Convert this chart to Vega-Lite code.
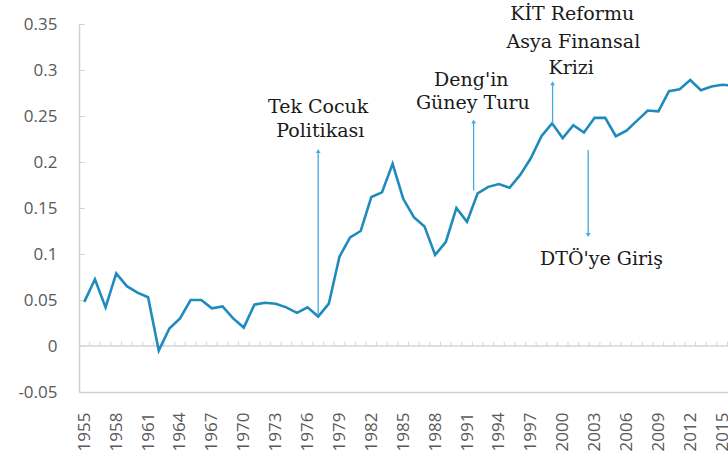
{
  "$schema": "https://vega.github.io/schema/vega-lite/v6.json",
  "width": 649,
  "height": 368,
  "autosize": {"type": "none"},
  "padding": {"left": 79, "top": 24, "right": 0, "bottom": 64},
  "background": "white",
  "config": {"view": {"stroke": null}},
  "datasets": {
    "series": [
      {"year": 1955, "value": 0.048}, {"year": 1956, "value": 0.0725}, {"year": 1957, "value": 0.042},
      {"year": 1958, "value": 0.079}, {"year": 1959, "value": 0.065}, {"year": 1960, "value": 0.058},
      {"year": 1961, "value": 0.053}, {"year": 1962, "value": -0.005}, {"year": 1963, "value": 0.019},
      {"year": 1964, "value": 0.03}, {"year": 1965, "value": 0.05}, {"year": 1966, "value": 0.05},
      {"year": 1967, "value": 0.041}, {"year": 1968, "value": 0.043}, {"year": 1969, "value": 0.03},
      {"year": 1970, "value": 0.02}, {"year": 1971, "value": 0.045}, {"year": 1972, "value": 0.047},
      {"year": 1973, "value": 0.046}, {"year": 1974, "value": 0.042}, {"year": 1975, "value": 0.036},
      {"year": 1976, "value": 0.042}, {"year": 1977, "value": 0.032}, {"year": 1978, "value": 0.046},
      {"year": 1979, "value": 0.097}, {"year": 1980, "value": 0.118}, {"year": 1981, "value": 0.125},
      {"year": 1982, "value": 0.162}, {"year": 1983, "value": 0.167}, {"year": 1984, "value": 0.198},
      {"year": 1985, "value": 0.16}, {"year": 1986, "value": 0.14}, {"year": 1987, "value": 0.13},
      {"year": 1988, "value": 0.099}, {"year": 1989, "value": 0.113}, {"year": 1990, "value": 0.15},
      {"year": 1991, "value": 0.135}, {"year": 1992, "value": 0.166}, {"year": 1993, "value": 0.173},
      {"year": 1994, "value": 0.176}, {"year": 1995, "value": 0.172}, {"year": 1996, "value": 0.186},
      {"year": 1997, "value": 0.204}, {"year": 1998, "value": 0.228}, {"year": 1999, "value": 0.242},
      {"year": 2000, "value": 0.226}, {"year": 2001, "value": 0.24}, {"year": 2002, "value": 0.232},
      {"year": 2003, "value": 0.248}, {"year": 2004, "value": 0.248}, {"year": 2005, "value": 0.228},
      {"year": 2006, "value": 0.234}, {"year": 2007, "value": 0.245}, {"year": 2008, "value": 0.256},
      {"year": 2009, "value": 0.255}, {"year": 2010, "value": 0.277}, {"year": 2011, "value": 0.279},
      {"year": 2012, "value": 0.289}, {"year": 2013, "value": 0.278}, {"year": 2014, "value": 0.282},
      {"year": 2015, "value": 0.284}, {"year": 2016, "value": 0.283}
    ],
    "ticks": [
      {"pos": 1955.5}, {"pos": 1956.5}, {"pos": 1957.5}, {"pos": 1958.5}, {"pos": 1959.5},
      {"pos": 1960.5}, {"pos": 1961.5}, {"pos": 1962.5}, {"pos": 1963.5}, {"pos": 1964.5},
      {"pos": 1965.5}, {"pos": 1966.5}, {"pos": 1967.5}, {"pos": 1968.5}, {"pos": 1969.5},
      {"pos": 1970.5}, {"pos": 1971.5}, {"pos": 1972.5}, {"pos": 1973.5}, {"pos": 1974.5},
      {"pos": 1975.5}, {"pos": 1976.5}, {"pos": 1977.5}, {"pos": 1978.5}, {"pos": 1979.5},
      {"pos": 1980.5}, {"pos": 1981.5}, {"pos": 1982.5}, {"pos": 1983.5}, {"pos": 1984.5},
      {"pos": 1985.5}, {"pos": 1986.5}, {"pos": 1987.5}, {"pos": 1988.5}, {"pos": 1989.5},
      {"pos": 1990.5}, {"pos": 1991.5}, {"pos": 1992.5}, {"pos": 1993.5}, {"pos": 1994.5},
      {"pos": 1995.5}, {"pos": 1996.5}, {"pos": 1997.5}, {"pos": 1998.5}, {"pos": 1999.5},
      {"pos": 2000.5}, {"pos": 2001.5}, {"pos": 2002.5}, {"pos": 2003.5}, {"pos": 2004.5},
      {"pos": 2005.5}, {"pos": 2006.5}, {"pos": 2007.5}, {"pos": 2008.5}, {"pos": 2009.5},
      {"pos": 2010.5}, {"pos": 2011.5}, {"pos": 2012.5}, {"pos": 2013.5}, {"pos": 2014.5},
      {"pos": 2015.5}
    ],
    "arrows": [
      {"year": 1977, "from": 0.034, "to": 0.212, "dir": "up"},
      {"year": 1991.62, "from": 0.169, "to": 0.244, "dir": "up"},
      {"year": 1999.05, "from": 0.242, "to": 0.2855, "dir": "up"},
      {"year": 2002.4, "from": 0.213, "to": 0.1207, "dir": "down"}
    ],
    "labels": [
      {"year": 1977.0, "value": 0.2598, "text": "Tek Cocuk"},
      {"year": 1977.2, "value": 0.2337, "text": "Politikası"},
      {"year": 1991.4, "value": 0.2891, "text": "Deng'in"},
      {"year": 1991.55, "value": 0.2641, "text": "Güney Turu"},
      {"year": 2000.9, "value": 0.3609, "text": "KİT Reformu"},
      {"year": 2001.0, "value": 0.3304, "text": "Asya Finansal"},
      {"year": 2000.8, "value": 0.3022, "text": "Krizi"},
      {"year": 2003.65, "value": 0.0946, "text": "DTÖ'ye Giriş"}
    ]
  },
  "layer": [
    {
      "data": {"values": [{"zero": 0}]},
      "mark": {"type": "rule", "color": "#d4d4d4", "strokeWidth": 1.5},
      "encoding": {
        "y": {"field": "zero", "type": "quantitative", "scale": {"domain": [-0.05, 0.35], "nice": false, "zero": false}}
      }
    },
    {
      "data": {"name": "ticks"},
      "mark": {"type": "rule", "color": "#d4d4d4", "strokeWidth": 1},
      "encoding": {
        "x": {"field": "pos", "type": "quantitative", "scale": {"domain": [1954.5, 2015.55], "nice": false, "zero": false}},
        "y": {"datum": 0, "type": "quantitative", "scale": {"domain": [-0.05, 0.35], "nice": false, "zero": false}},
        "y2": {"datum": 0.0045}
      }
    },
    {
      "data": {"name": "series"},
      "mark": {"type": "line", "color": "#1f8bbd", "strokeWidth": 2.6, "clip": true},
      "encoding": {
        "x": {
          "field": "year", "type": "quantitative", "title": null,
          "scale": {"domain": [1954.5, 2015.55], "nice": false, "zero": false},
          "axis": {
            "values": [1955, 1958, 1961, 1964, 1967, 1970, 1973, 1976, 1979, 1982, 1985, 1988, 1991, 1994, 1997, 2000, 2003, 2006, 2009, 2012, 2015],
            "tickCount": 40,
            "format": "d",
            "labelAngle": -90, "ticks": false, "grid": false, "title": null,
            "domainColor": "#d0d0d0", "domainWidth": 1.5,
            "labelColor": "#595959", "labelFont": "Open Sans", "labelFontSize": 17,
            "labelPadding": 20, "labelOverlap": false, "labelBound": false, "labelFlush": false
          }
        },
        "y": {
          "field": "value", "type": "quantitative", "title": null,
          "scale": {"domain": [-0.05, 0.35], "nice": false, "zero": false},
          "axis": {
            "values": [-0.05, 0, 0.05, 0.1, 0.15, 0.2, 0.25, 0.3, 0.35],
            "tickCount": 20,
            "labelExpr": "datum.value < 0 ? '-' + format(-datum.value, '.2~f') : format(datum.value, '.2~f')",
            "grid": false, "title": null, "tickSize": -5, "tickColor": "#d0d0d0",
            "domainColor": "#d0d0d0", "domainWidth": 1.5,
            "labelColor": "#595959", "labelFont": "Open Sans", "labelFontSize": 17,
            "labelPadding": 27, "labelOverlap": false, "labelBound": false, "labelFlush": false
          }
        }
      }
    },
    {
      "data": {"name": "arrows"},
      "mark": {"type": "rule", "color": "#45a9e0", "strokeWidth": 1.3},
      "encoding": {
        "x": {"field": "year", "type": "quantitative", "scale": {"domain": [1954.5, 2015.55], "nice": false, "zero": false}},
        "y": {"field": "from", "type": "quantitative", "scale": {"domain": [-0.05, 0.35], "nice": false, "zero": false}},
        "y2": {"field": "to"}
      }
    },
    {
      "data": {"name": "arrows"},
      "mark": {"type": "point", "filled": true, "opacity": 1, "color": "#45a9e0", "size": 22},
      "encoding": {
        "x": {"field": "year", "type": "quantitative", "scale": {"domain": [1954.5, 2015.55], "nice": false, "zero": false}},
        "y": {"field": "to", "type": "quantitative", "scale": {"domain": [-0.05, 0.35], "nice": false, "zero": false}},
        "shape": {"field": "dir", "type": "nominal", "scale": {"domain": ["up", "down"], "range": ["triangle-up", "triangle-down"]}, "legend": null}
      }
    },
    {
      "data": {"name": "labels"},
      "mark": {"type": "text", "font": "DejaVu Serif", "fontSize": 19, "color": "#1a1a1a", "align": "center", "baseline": "middle"},
      "encoding": {
        "x": {"field": "year", "type": "quantitative", "scale": {"domain": [1954.5, 2015.55], "nice": false, "zero": false}},
        "y": {"field": "value", "type": "quantitative", "scale": {"domain": [-0.05, 0.35], "nice": false, "zero": false}},
        "text": {"field": "text", "type": "nominal"}
      }
    }
  ]
}
